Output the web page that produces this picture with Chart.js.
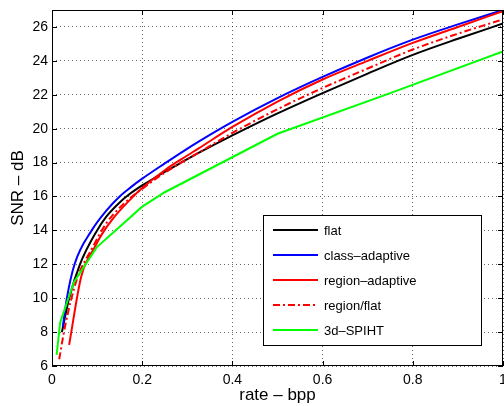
<!DOCTYPE html>
<html>
<head>
<meta charset="utf-8">
<script src="https://cdn.jsdelivr.net/npm/chart.js@4.4.1/dist/chart.umd.min.js"></script>
<style>
  html, body { margin: 0; padding: 0; background: #fff; }
  #wrap { width: 504px; height: 406px; }
</style>
</head>
<body>
<div id="wrap"><canvas id="snrChart" width="504" height="406"></canvas></div>
<script>
// ── DATA ──────────────────────────────────────────────────────
const rateTicks = [0, 0.2, 0.4, 0.6, 0.8, 1];
const snrTicks  = [6, 8, 10, 12, 14, 16, 18, 20, 22, 24, 26];

const rateFlat = [0.022, 0.038, 0.062, 0.1, 0.12, 0.15, 0.17, 0.2, 0.25, 0.29, 0.326, 0.4, 0.5, 0.6, 0.7, 0.8, 0.9, 1.0];
const snrFlat  = [8.0, 10.0, 12.0, 14.0, 14.8, 15.65, 16.1, 16.65, 17.45, 18.05, 18.58, 19.6, 20.9, 22.1, 23.25, 24.35, 25.3, 26.2];

const rateClass = [0.024, 0.033, 0.05, 0.088, 0.12, 0.15, 0.175, 0.2, 0.25, 0.29, 0.326, 0.4, 0.5, 0.6, 0.7, 0.8, 0.9, 1.0];
const snrClass  = [8.3, 10.0, 12.0, 14.0, 15.15, 16.0, 16.55, 17.05, 17.95, 18.65, 19.25, 20.4, 21.8, 23.05, 24.2, 25.25, 26.15, 27.0];

const rateRegion = [0.038, 0.065, 0.0955, 0.11, 0.14, 0.18, 0.2, 0.25, 0.29, 0.326, 0.4, 0.5, 0.6, 0.7, 0.8, 0.9, 1.0];
const snrRegion  = [7.25, 11.3, 13.05, 13.75, 14.85, 16.0, 16.5, 17.55, 18.25, 18.85, 20.1, 21.6, 22.9, 24.0, 25.06, 26.0, 26.93];

const rateRegFlat = [0.016, 0.029, 0.055, 0.088, 0.12, 0.16, 0.2, 0.25, 0.29, 0.326, 0.4, 0.5, 0.6, 0.7, 0.8, 0.9, 1.0];
const snrRegFlat  = [6.4, 8.35, 11.1, 12.9, 14.4, 15.6, 16.45, 17.4, 18.05, 18.6, 19.75, 21.15, 22.4, 23.55, 24.67, 25.6, 26.45];

const rateSpiht = [0.0103, 0.018, 0.0485, 0.099, 0.2, 0.25, 0.5, 0.75, 1.0];
const snrSpiht  = [6.65, 8.55, 10.95, 13.0, 15.4, 16.25, 19.7, 22.1, 24.55];

const FONT = "'Liberation Sans', Arial, Helvetica, sans-serif";

function pts(xs, ys) {
  return xs.map((x, i) => ({ x: x, y: ys[i] }));
}

// MATLAB-ish box: frame, inward ticks, legend inside the axes
const matlabBox = {
  id: "matlabBox",
  afterDatasetsDraw(chart) {
    const { ctx, chartArea: a, scales: { x, y } } = chart;
    ctx.save();
    ctx.strokeStyle = "#000";
    ctx.lineWidth = 1;

    // inward tick marks on all four sides
    ctx.beginPath();
    rateTicks.forEach(v => {
      const px = Math.round(x.getPixelForValue(v)) + 0.5;
      ctx.moveTo(px, a.bottom); ctx.lineTo(px, a.bottom - 5);
      ctx.moveTo(px, a.top);    ctx.lineTo(px, a.top + 5);
    });
    snrTicks.forEach(v => {
      const py = Math.round(y.getPixelForValue(v)) + 0.5;
      ctx.moveTo(a.left, py);  ctx.lineTo(a.left + 5, py);
      ctx.moveTo(a.right, py); ctx.lineTo(a.right - 5, py);
    });
    ctx.stroke();

    ctx.strokeRect(a.left + 0.5, a.top + 0.5, a.right - a.left - 1, a.bottom - a.top - 1);

    // legend box
    const lx = a.right - 240, ly = a.top + 205, lw = 218, lh = 130;
    ctx.fillStyle = "#fff";
    ctx.fillRect(lx, ly, lw, lh);
    ctx.strokeRect(lx + 0.5, ly + 0.5, lw, lh);

    ctx.font = "13px " + FONT;
    ctx.textBaseline = "middle";
    ctx.textAlign = "left";
    chart.data.datasets.forEach((ds, i) => {
      const ry = ly + 15 + i * 25;
      ctx.beginPath();
      ctx.setLineDash(ds.borderDash || []);
      ctx.strokeStyle = ds.borderColor;
      ctx.lineWidth = ds.borderWidth;
      ctx.moveTo(lx + 10, ry); ctx.lineTo(lx + 55, ry);
      ctx.stroke();
      ctx.setLineDash([]);
      ctx.fillStyle = "#000";
      ctx.fillText(ds.label, lx + 61, ry + 1);
    });
    ctx.restore();
  }
};

function line(label, xs, ys, color, extra) {
  return Object.assign({
    label: label,
    data: pts(xs, ys),
    borderColor: color,
    backgroundColor: color,
    borderWidth: 2,
    pointRadius: 0,
    fill: false,
    cubicInterpolationMode: "monotone",
  }, extra || {});
}

new Chart(document.getElementById("snrChart").getContext("2d"), {
  type: "line",
  data: {
    datasets: [
      line("flat",                 rateFlat,    snrFlat,    "#000000", { order: 4 }),
      line("class\u2013adaptive",  rateClass,   snrClass,   "#0000ff", { order: 3 }),
      line("region\u2013adaptive", rateRegion,  snrRegion,  "#ff0000", { order: 2 }),
      line("region/flat",          rateRegFlat, snrRegFlat, "#ff0000", { order: 1, borderDash: [7, 3, 2, 3] }),
      line("3d\u2013SPIHT",        rateSpiht,   snrSpiht,   "#00ff00", { order: 0, cubicInterpolationMode: "default", tension: 0 }),
    ],
  },
  options: {
    responsive: false,
    animation: false,
    layout: { padding: { left: 0, top: 10, right: 1, bottom: 0 } },
    plugins: { legend: { display: false }, tooltip: { enabled: false } },
    scales: {
      x: {
        type: "linear",
        min: 0, max: 1,
        afterBuildTicks: s => { s.ticks = rateTicks.map(v => ({ value: v })); },
        afterFit: s => { s.height = 40; s.paddingLeft = 0; s.paddingRight = 0; },
        grid: { color: "rgba(0,0,0,0.6)", lineWidth: 1, drawTicks: false },
        border: { display: false, dash: [1, 3] },
        ticks: {
          padding: 6, color: "#000", maxRotation: 0, autoSkip: false,
          font: { family: FONT, size: 14 },
          callback: v => String(v),
        },
        title: {
          display: true, text: "rate \u2013 bpp", color: "#000",
          font: { family: FONT, size: 17 }, padding: { top: 0, bottom: 0 },
        },
      },
      y: {
        type: "linear",
        min: 6, max: 27,
        afterBuildTicks: s => { s.ticks = snrTicks.map(v => ({ value: v })); },
        afterFit: s => { s.width = 52; s.paddingTop = 0; s.paddingBottom = 0; },
        grid: { color: "rgba(0,0,0,0.6)", lineWidth: 1, drawTicks: false },
        border: { display: false, dash: [1, 3] },
        ticks: {
          padding: 4, color: "#000", autoSkip: false,
          font: { family: FONT, size: 14 },
          callback: v => String(v),
        },
        title: {
          display: true, text: "SNR \u2013 dB", color: "#000",
          font: { family: FONT, size: 17 }, padding: { top: 8, bottom: 0 },
        },
      },
    },
  },
  plugins: [matlabBox],
});
</script>
</body>
</html>
